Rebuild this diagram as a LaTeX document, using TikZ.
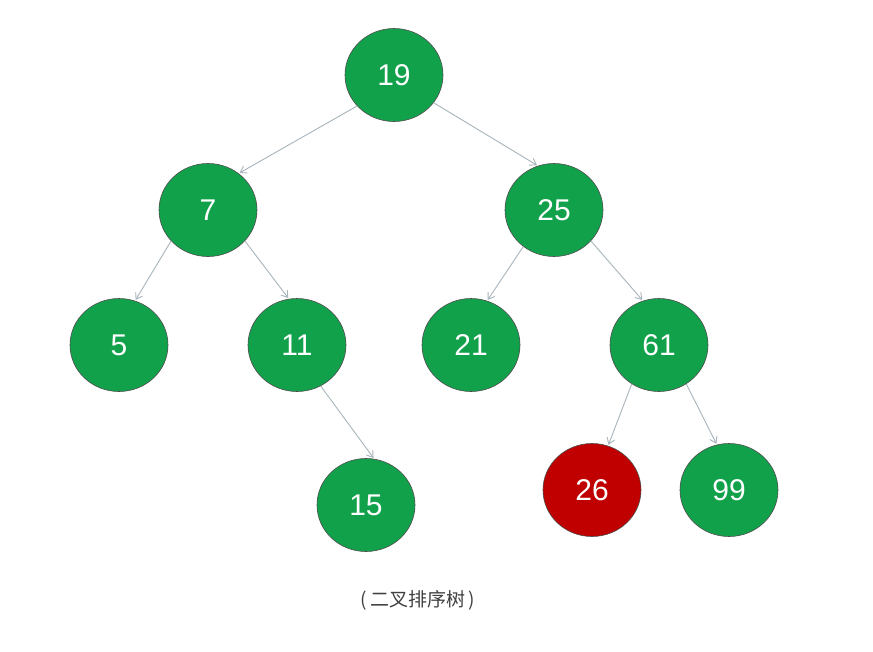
\documentclass[tikz,border=0pt]{standalone}
\usepackage{fontspec}
\setmainfont{Liberation Sans}
\newfontfamily\cjk{Noto Sans CJK SC}
\usetikzlibrary{arrows.meta}
\definecolor{ng}{HTML}{12A14B}
\definecolor{nr}{HTML}{C00000}
\definecolor{eg}{HTML}{A8B4BC}
\tikzset{tn/.style={ellipse,draw=black!70,line width=0.6pt,fill=ng,text=white,minimum width=98pt,minimum height=93pt,inner sep=0pt,font=\fontsize{30}{30}\selectfont},
rn/.style={tn,fill=nr},
ed/.style={draw=eg,line width=0.9pt,-{Straight Barb[length=6pt,width=8pt]},shorten >=1pt}}
\usetikzlibrary{shapes.geometric}
\begin{document}
\begin{tikzpicture}[x=1pt,y=-1pt]
\useasboundingbox[fill=white] (0,0) rectangle (873,651);
\node[tn] (n19) at (394,75) {19};
\node[tn] (n7) at (208,210) {7};
\node[tn] (n25) at (554,210) {25};
\node[tn] (n5) at (119,345) {5};
\node[tn] (n11) at (297,345) {11};
\node[tn] (n21) at (471,345) {21};
\node[tn] (n61) at (659,345) {61};
\node[tn] (n15) at (366,505) {15};
\node[rn] (n26) at (592,490) {26};
\node[tn] (n99) at (729,490) {99};
\node[text=black!75,font=\cjk\fontsize{19}{19}\selectfont] (cap) at (418,600) {(\,二叉排序树\,)};
\draw[ed] (n19.220) -- (n7.50);
\draw[ed] (n19.325) -- (n25.110);
\draw[ed] (n7.220) -- (n5.70);
\draw[ed] (n7.320) -- (n11.100);
\draw[ed] (n25.230) -- (n21.70);
\draw[ed] (n25.320) -- (n61.110);
\draw[ed] (n11.300) -- (n15.80);
\draw[ed] (n61.235) -- (n26.70);
\draw[ed] (n61.305) -- (n99.105);
\end{tikzpicture}
\end{document}
